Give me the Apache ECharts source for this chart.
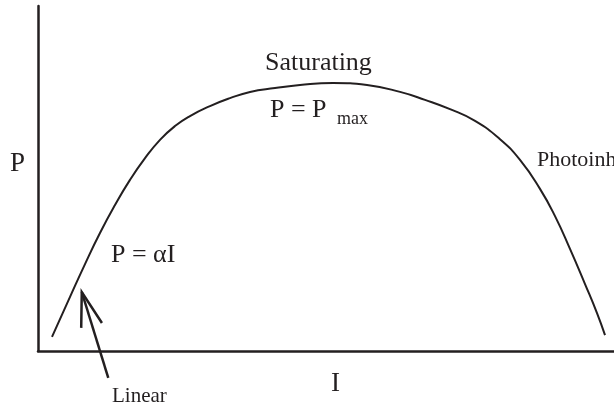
<!DOCTYPE html>
<html><head><meta charset="utf-8">
<script src="https://cdn.jsdelivr.net/npm/echarts@6/dist/echarts.min.js"></script>
<style>html,body{margin:0;padding:0;background:#fff}#c{width:614px;height:411px}</style>
</head><body><div id="c"></div>
<script>
// Light intensity I (0-100 scale) and photosynthesis P (0-100 scale)
var curveI = [2.43, 5.56, 8.16, 10.76, 13.37, 15.97, 18.58, 21.18, 23.78, 26.39, 29.86, 33.33, 36.81, 41.15, 45.49, 51.22, 57.12, 62.85, 67.19, 71.53, 75.87, 80.21, 83.68, 87.15, 89.76, 92.36, 94.97, 97.05, 98.44];
var curveP = [4.1, 15.7, 25.2, 34.2, 42.3, 49.6, 55.9, 61.2, 65.2, 68.1, 71.0, 73.3, 75.1, 76.2, 77.1, 77.7, 77.1, 75.1, 72.8, 70.1, 66.7, 61.4, 55.4, 47.0, 39.1, 29.6, 19.4, 11.0, 4.6];
// Arrow pointing at the linear part: tail -> tip, and head wings
var arrowShaftI = [12.2, 7.6];
var arrowShaftP = [-7.8, 17.1];
var arrowHeadI = [7.5, 7.6, 11.1];
var arrowHeadP = [6.7, 17.1, 8.1];
var labels = {yName: 'P', xName: 'I', sat: 'Saturating', pmax: 'P = P', pmaxSub: 'max', lin: 'P = αI', linear: 'Linear', inh: 'Photoinh'};

function zip(a, b) { return a.map(function (v, i) { return [v, b[i]]; }); }

var ink = '#231f20';
var font = "'Liberation Serif','Times New Roman',serif";
function txt(text, x, y, size) {
  return {type: 'text', x: x, y: y, style: {text: text, fill: ink, font: size + 'px ' + font, textAlign: 'left', textVerticalAlign: 'middle', verticalAlign: 'middle'}};
}

var chart = echarts.init(document.getElementById('c'), null, {renderer: 'canvas'});
chart.setOption({
  animation: false,
  grid: {left: 38, right: 0, top: 6, bottom: 60, containLabel: false},
  xAxis: {type: 'value', min: 0, max: 100, axisLine: {show: true, onZero: false, lineStyle: {color: ink, width: 2.5}}, axisTick: {show: false}, axisLabel: {show: false}, splitLine: {show: false}},
  yAxis: {type: 'value', min: 0, max: 100, axisLine: {show: true, onZero: false, lineStyle: {color: ink, width: 2.5}}, axisTick: {show: false}, axisLabel: {show: false}, splitLine: {show: false}},
  series: [
    {type: 'line', data: zip(curveI, curveP), smooth: 0.5, showSymbol: false, symbol: 'none', lineStyle: {color: ink, width: 2}},
    {type: 'line', data: zip(arrowShaftI, arrowShaftP), clip: false, showSymbol: false, symbol: 'none', lineStyle: {color: ink, width: 2.5}},
    {type: 'line', data: zip(arrowHeadI, arrowHeadP), clip: false, showSymbol: false, symbol: 'none', lineStyle: {color: ink, width: 2.5, join: 'miter'}}
  ],
  graphic: [
    txt(labels.yName, 10, 164, 27),
    txt(labels.xName, 331, 384, 27),
    txt(labels.sat, 265, 63, 26),
    txt(labels.pmax, 270, 110, 26),
    txt(labels.pmaxSub, 337, 119, 18),
    txt(labels.lin, 111, 255, 26),
    txt(labels.linear, 112, 396, 21),
    txt(labels.inh, 537, 160, 22)
  ]
});
</script></body></html>
